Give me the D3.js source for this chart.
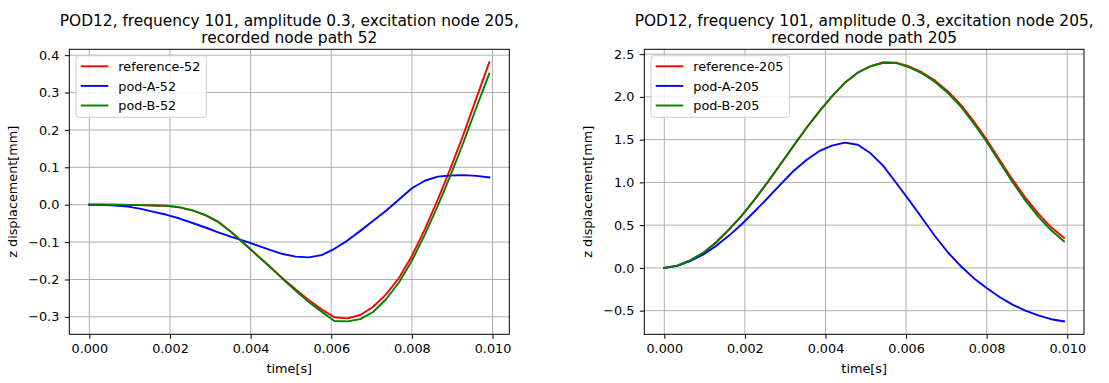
<!DOCTYPE html>
<head>
  <meta charset="utf-8">
  <script src="https://d3js.org/d3.v7.min.js"></script>
  <style>
    body { margin: 0; background: #fff; }
    svg { display: block; font-family: "DejaVu Sans", sans-serif; }
  </style>
</head>
<body>
  <svg width="1109" height="383"></svg>
  <script>
    // data (time in s, displacement in mm)
    var time = [0, 0.00032, 0.00064, 0.00096, 0.00128, 0.0016, 0.00192, 0.00224, 0.00256, 0.00288,
      0.0032, 0.00352, 0.00384, 0.00416, 0.00448, 0.0048, 0.00512, 0.00544, 0.00576, 0.00608,
      0.0064, 0.00672, 0.00704, 0.00736, 0.00768, 0.008, 0.00832, 0.00864, 0.00896, 0.00928,
      0.0096, 0.00992];

    var ref52 = [0, 0, -0.0003, -0.0006, -0.001, -0.002, -0.003, -0.007, -0.015, -0.028,
      -0.046, -0.073, -0.104, -0.135, -0.166, -0.197, -0.227, -0.255, -0.280, -0.301,
      -0.304, -0.295, -0.273, -0.240, -0.196, -0.137, -0.066, 0.013, 0.098, 0.188,
      0.285, 0.381];
    var podA52 = [0, 0, -0.002, -0.005, -0.011, -0.019, -0.027, -0.037, -0.049, -0.061,
      -0.074, -0.086, -0.097, -0.109, -0.121, -0.132, -0.139, -0.141, -0.135, -0.118,
      -0.096, -0.070, -0.043, -0.016, 0.014, 0.044, 0.064, 0.075, 0.078, 0.079,
      0.077, 0.073];
    var podB52 = [0, 0, -0.0003, -0.0006, -0.001, -0.002, -0.003, -0.007, -0.015, -0.028,
      -0.046, -0.073, -0.104, -0.135, -0.166, -0.199, -0.230, -0.260, -0.286, -0.311,
      -0.312, -0.306, -0.287, -0.253, -0.208, -0.150, -0.080, -0.004, 0.079, 0.167,
      0.260, 0.351];

    var ref205 = [0, 0.026, 0.086, 0.172, 0.294, 0.445, 0.608, 0.796, 0.998, 1.208,
      1.42, 1.63, 1.825, 2.006, 2.164, 2.283, 2.36, 2.405, 2.40, 2.355,
      2.286, 2.19, 2.064, 1.907, 1.715, 1.50, 1.264, 1.035, 0.822, 0.634,
      0.475, 0.35];
    var podA205 = [0, 0.024, 0.08, 0.155, 0.255, 0.375, 0.51, 0.66, 0.815, 0.975,
      1.13, 1.26, 1.365, 1.43, 1.465, 1.44, 1.34, 1.19, 0.99, 0.79,
      0.58, 0.37, 0.18, 0.02, -0.12, -0.235, -0.34, -0.43, -0.50, -0.555,
      -0.60, -0.625];
    var podB205 = [0, 0.026, 0.088, 0.175, 0.297, 0.448, 0.612, 0.8, 1.002, 1.212,
      1.424, 1.633, 1.827, 2.007, 2.164, 2.282, 2.358, 2.398, 2.395, 2.345,
      2.275, 2.175, 2.045, 1.885, 1.69, 1.475, 1.24, 1.005, 0.79, 0.60,
      0.44, 0.31];

    var xTicks = [0, 0.002, 0.004, 0.006, 0.008, 0.010];
    var yTicks52 = [-0.3, -0.2, -0.1, 0.0, 0.1, 0.2, 0.3, 0.4];
    var yTicks205 = [-0.5, 0.0, 0.5, 1.0, 1.5, 2.0, 2.5];

    var colors = ["#ff0000", "#0000ff", "#008000"];

    var panels = [
      { left: 69.3, right: 509.3, title: ["POD12, frequency 101, amplitude 0.3, excitation node 205,", "recorded node path 52"],
        series: [ref52, podA52, podB52], names: ["reference-52", "pod-A-52", "pod-B-52"], yTicks: yTicks52 },
      { left: 644.3, right: 1084, title: ["POD12, frequency 101, amplitude 0.3, excitation node 205,", "recorded node path 205"],
        series: [ref205, podA205, podB205], names: ["reference-205", "pod-A-205", "pod-B-205"], yTicks: yTicks205 }
    ];
    var plotTop = 49.3, plotBottom = 334.3;
    var fs = 12.8;

    var svg = d3.select("svg");

    panels.forEach(function(p) {
      var xMax = d3.max(time), xPad = xMax * 0.05;
      var xScale = d3.scaleLinear().domain([-xPad, xMax + xPad]).range([p.left, p.right]);
      var all = d3.merge(p.series);
      var lo = d3.min(all), hi = d3.max(all), pad = (hi - lo) * 0.05;
      var yScale = d3.scaleLinear().domain([lo - pad, hi + pad]).range([plotBottom, plotTop]);

      var g = svg.append("g");

      // grid
      g.selectAll(".gx").data(xTicks).enter().append("line")
        .attr("x1", function(d) { return xScale(d); }).attr("x2", function(d) { return xScale(d); })
        .attr("y1", plotTop).attr("y2", plotBottom)
        .attr("stroke", "#b0b0b0").attr("stroke-width", 1);
      g.selectAll(".gy").data(p.yTicks).enter().append("line")
        .attr("x1", p.left).attr("x2", p.right)
        .attr("y1", function(d) { return yScale(d); }).attr("y2", function(d) { return yScale(d); })
        .attr("stroke", "#b0b0b0").attr("stroke-width", 1);

      // lines
      var line = d3.line()
        .x(function(d, i) { return xScale(time[i]); })
        .y(function(d) { return yScale(d); });
      p.series.forEach(function(s, k) {
        g.append("path").datum(s)
          .attr("d", line)
          .attr("fill", "none")
          .attr("stroke", colors[k])
          .attr("stroke-width", 1.9)
          .attr("stroke-linejoin", "round")
          .attr("stroke-linecap", "square");
      });

      // frame
      g.append("rect")
        .attr("x", p.left).attr("y", plotTop)
        .attr("width", p.right - p.left).attr("height", plotBottom - plotTop)
        .attr("fill", "none").attr("stroke", "#000").attr("stroke-width", 1);

      // axes
      var xAxis = d3.axisBottom(xScale).tickValues(xTicks).tickFormat(d3.format(".3f"))
        .tickSizeInner(4.5).tickSizeOuter(0).tickPadding(5.5);
      var yAxis = d3.axisLeft(yScale).tickValues(p.yTicks).tickFormat(d3.format(".1f"))
        .tickSizeInner(4.5).tickSizeOuter(0).tickPadding(5.5);
      var gx = g.append("g").attr("transform", "translate(0," + plotBottom + ")").call(xAxis);
      var gy = g.append("g").attr("transform", "translate(" + p.left + ",0)").call(yAxis);
      [gx, gy].forEach(function(a) {
        a.select(".domain").remove();
        a.selectAll("text").attr("font-size", fs).attr("fill", "#000").attr("font-family", "DejaVu Sans");
        a.selectAll("line").attr("stroke", "#000").attr("stroke-width", 1);
      });

      var cx = (p.left + p.right) / 2;
      // titles
      g.append("text").attr("x", cx).attr("y", 25.5).attr("text-anchor", "middle")
        .attr("font-size", 15.4).text(p.title[0]);
      g.append("text").attr("x", cx).attr("y", 42.5).attr("text-anchor", "middle")
        .attr("font-size", 15.4).text(p.title[1]);

      // axis labels
      g.append("text").attr("x", cx).attr("y", 373).attr("text-anchor", "middle")
        .attr("font-size", fs).text("time[s]");
      g.append("text")
        .attr("transform", "translate(" + (p.left - 52) + "," + ((plotTop + plotBottom) / 2) + ") rotate(-90)")
        .attr("text-anchor", "middle").attr("font-size", fs).text("z displacement[mm]");

      // legend
      var lx = p.left + 6.7, ly = plotTop + 6.4;
      var lg = g.append("g");
      var box = lg.append("rect").attr("x", lx).attr("y", ly).attr("rx", 2.5)
        .attr("fill", "#fff").attr("fill-opacity", 0.8).attr("stroke", "#cccccc").attr("stroke-width", 1);
      var maxW = 0;
      p.names.forEach(function(n, k) {
        var yy = ly + 10.6 + k * 19.6;
        lg.append("line").attr("x1", lx + 4.7).attr("x2", lx + 32.3)
          .attr("y1", yy).attr("y2", yy)
          .attr("stroke", colors[k]).attr("stroke-width", 1.9);
        var t = lg.append("text").attr("x", lx + 42.3).attr("y", yy + 4.6)
          .attr("font-size", fs).text(n);
        maxW = Math.max(maxW, t.node().getComputedTextLength());
      });
      box.attr("width", 42.3 + maxW + 6).attr("height", 61.6);
    });
  </script>
</body>
